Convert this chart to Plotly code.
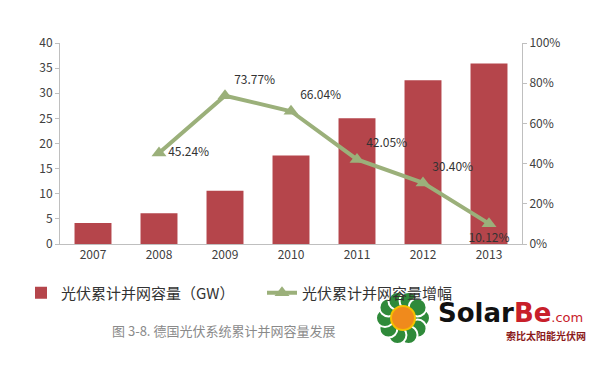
import math
import plotly.graph_objects as go

years = ["2007", "2008", "2009", "2010", "2011", "2012", "2013"]
capacity_gw = [4.2, 6.1, 10.6, 17.6, 25.0, 32.6, 35.9]
growth_pct = [None, 45.24, 73.77, 66.04, 42.05, 30.40, 10.12]
growth_labels = ["", "45.24%", "73.77%", "66.04%", "42.05%", "30.40%", "10.12%"]
label_pos = ["top right", "middle right", "top right", "top right", "top right", "top right", "bottom center"]

bar_name = "光伏累计并网容量（GW）"
line_name = "光伏累计并网容量增幅"
caption = "图 3-8. 德国光伏系统累计并网容量发展"

RED = "#b5454b"
GREEN = "#9bb07a"
TXT = "#404040"
FONT = "Noto Sans CJK SC, Noto Sans, sans-serif"
# page body has an 8px margin; figure occupies 8..600
OFF = 8
W, H = 600 - OFF, 370 - OFF

fig = go.Figure()
fig.add_trace(go.Bar(
    x=years, y=capacity_gw, name=bar_name, legend="legend",
    marker=dict(color=RED, line=dict(width=0)),
))
fig.add_trace(go.Scatter(
    x=years, y=growth_pct, name=line_name, yaxis="y2", legend="legend2",
    mode="lines+markers+text",
    line=dict(color=GREEN, width=4),
    marker=dict(symbol="triangle-up", size=13, color=GREEN),
    text=growth_labels, textposition=label_pos,
    textfont=dict(size=12, color="#333333", family=FONT),
    connectgaps=False,
))

legend_common = dict(
    orientation="h", xref="container", yref="container",
    y=1 - (293 - OFF) / H, xanchor="left", yanchor="middle",
    font=dict(size=15, color="#333333", family=FONT),
    bgcolor="rgba(0,0,0,0)",
)

fig.update_layout(
    width=W, height=H,
    margin=dict(l=60 - OFF, r=78, t=43 - OFF, b=126, autoexpand=False),
    paper_bgcolor="white", plot_bgcolor="white",
    font=dict(family=FONT, color=TXT, size=12),
    bargap=0.44,
    showlegend=True,
    legend=dict(x=(21 - OFF) / W, **legend_common),
    legend2=dict(x=(262 - OFF) / W, **legend_common),
    xaxis=dict(
        type="category", showline=True, linecolor="#bfbfbf", linewidth=1,
        ticks="", tickfont=dict(size=12, color=TXT), showgrid=False,
        automargin=False,
    ),
    yaxis=dict(
        range=[0, 40], dtick=5, showline=True, linecolor="#bfbfbf", linewidth=1,
        ticks="outside", ticklen=4, tickcolor="#bfbfbf", automargin=False,
        showgrid=False, zeroline=False, tickfont=dict(size=12, color=TXT),
    ),
    yaxis2=dict(
        range=[0, 100], dtick=20, overlaying="y", side="right", ticksuffix="%",
        showline=True, linecolor="#bfbfbf", linewidth=1, automargin=False,
        ticks="outside", ticklen=4, tickcolor="#bfbfbf",
        showgrid=False, zeroline=False, tickfont=dict(size=12, color=TXT),
    ),
)

def px_x(x):
    return (x - 60) / 462

def px_y(y):
    return (244 - y) / 201

# caption
fig.add_annotation(
    text=caption, xref="paper", yref="paper", x=px_x(110), y=px_y(330),
    xanchor="left", yanchor="middle", showarrow=False,
    font=dict(size=13, color="#8a8a8a", family=FONT),
)

# watermark logo (flower + text)
cx, cy = 403, 318
for i in range(10):
    a = 2 * math.pi * i / 10
    px, py = cx + 18 * math.cos(a), cy + 18 * math.sin(a)
    fig.add_shape(type="circle", xref="paper", yref="paper",
                  x0=px_x(px - 9), x1=px_x(px + 9),
                  y0=px_y(py + 9), y1=px_y(py - 9),
                  fillcolor="#2f8a3a", line=dict(color="white", width=2), layer="above")
fig.add_shape(type="circle", xref="paper", yref="paper",
              x0=px_x(cx - 12), x1=px_x(cx + 12),
              y0=px_y(cy + 12), y1=px_y(cy - 12),
              fillcolor="#f08a1c", line=dict(color="#f5c000", width=2), layer="above")
fig.add_annotation(
    text="<b>Solar</b><b><span style='color:#c8202a'>Be</span></b><span style='color:#c8202a;font-size:13px'>.com</span>",
    xref="paper", yref="paper", x=px_x(436), y=px_y(313),
    xanchor="left", yanchor="middle", showarrow=False,
    font=dict(size=26, color="#111111", family="DejaVu Sans, sans-serif"),
)
fig.add_annotation(
    text="<b>索比太阳能光伏网</b>", xref="paper", yref="paper",
    x=px_x(588), y=px_y(335), xanchor="right", yanchor="middle",
    showarrow=False, font=dict(size=10, color="#8b1a1a", family=FONT),
)

fig.write_html("out.html")
